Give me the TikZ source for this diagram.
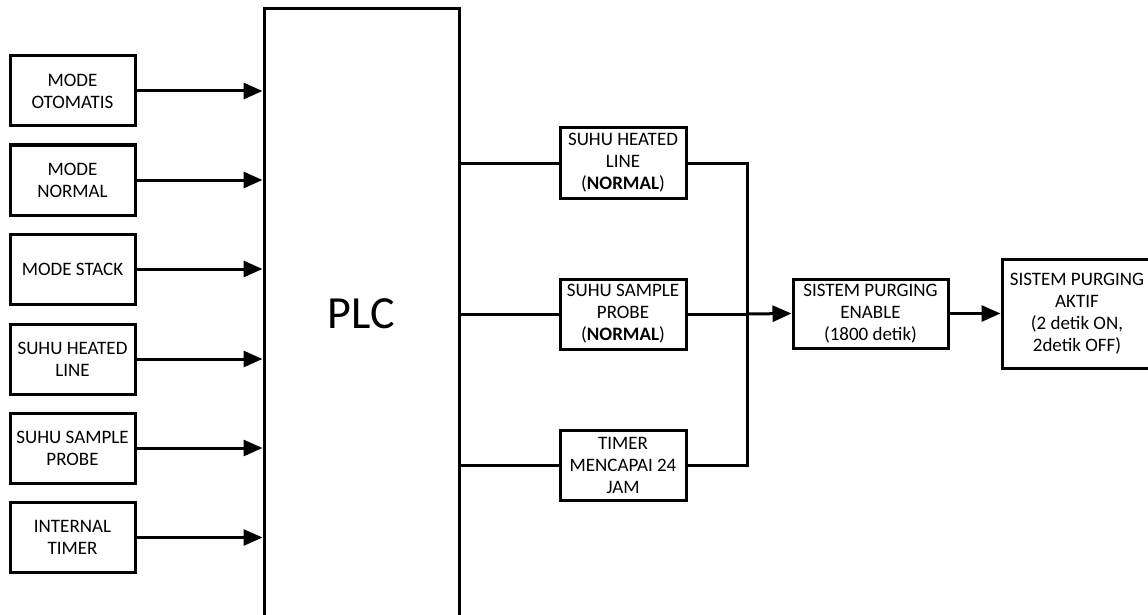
\documentclass[tikz,border=0pt]{standalone}
\usepackage{fontspec}
\setmainfont{Carlito}
\usetikzlibrary{arrows.meta}
\begin{document}
\begin{tikzpicture}[x=1pt,y=-1pt,
  box/.style={draw,line width=3pt,rectangle,align=center,inner sep=0pt,
    font=\fontsize{19}{22}\selectfont},
  inbox/.style={box,minimum width=125pt,minimum height=70pt},
  midbox/.style={box,minimum width=126pt,minimum height=70pt},
  conn/.style={line width=3pt},
  arr/.style={conn,-{Triangle[length=19pt,width=16pt]}}]
\useasboundingbox (0,0) rectangle (1148,615);
\clip (0,0) rectangle (1148,615);
\fill[white] (0,0) rectangle (1148,615);
% PLC
\node[box,minimum width=195pt,minimum height=610pt,font=\fontsize{46}{50}\selectfont] (plc) at (361.5,314) {PLC};
% inputs
\node[inbox] (i1) at (72.5,91) {MODE\\OTOMATIS};
\node[inbox] (i2) at (72.5,180) {MODE\\NORMAL};
\node[inbox] (i3) at (72.5,269) {MODE STACK};
\node[inbox] (i4) at (72.5,359) {SUHU HEATED\\LINE};
\node[inbox] (i5) at (72.5,448) {SUHU SAMPLE\\PROBE};
\node[inbox] (i6) at (72.5,537.5) {INTERNAL\\TIMER};
\foreach \n in {i1,i2,i3,i4,i5,i6}
  \draw[arr] (\n.east) -- (\n.east -| plc.west);
% middle
\node[midbox] (a) at (623,163) {SUHU HEATED\\LINE\\(\textbf{NORMAL})};
\node[midbox] (b) at (623,314) {SUHU SAMPLE\\PROBE\\(\textbf{NORMAL})};
\node[midbox] (c) at (623,465.5) {TIMER\\MENCAPAI 24\\JAM};
\foreach \n in {a,b,c}
  \draw[conn] (\n.west -| plc.east) -- (\n.west);
\coordinate (j) at (747,314);
\draw[conn] (a.east) -| (j) |- (c.east);
\draw[conn] (b.east) -- (j);
% outputs
\node[box,minimum width=155pt,minimum height=69pt] (e) at (870.5,313.5) {SISTEM PURGING\\ENABLE\\(1800 detik)};
\node[box,minimum width=150pt,minimum height=109pt] (f) at (1077,313.5) {SISTEM PURGING\\AKTIF\\(2 detik ON,\\2detik OFF)};
\draw[arr] (j) -- (e.west);
\draw[arr] (e.east) -- (f.west);
\end{tikzpicture}
\end{document}
